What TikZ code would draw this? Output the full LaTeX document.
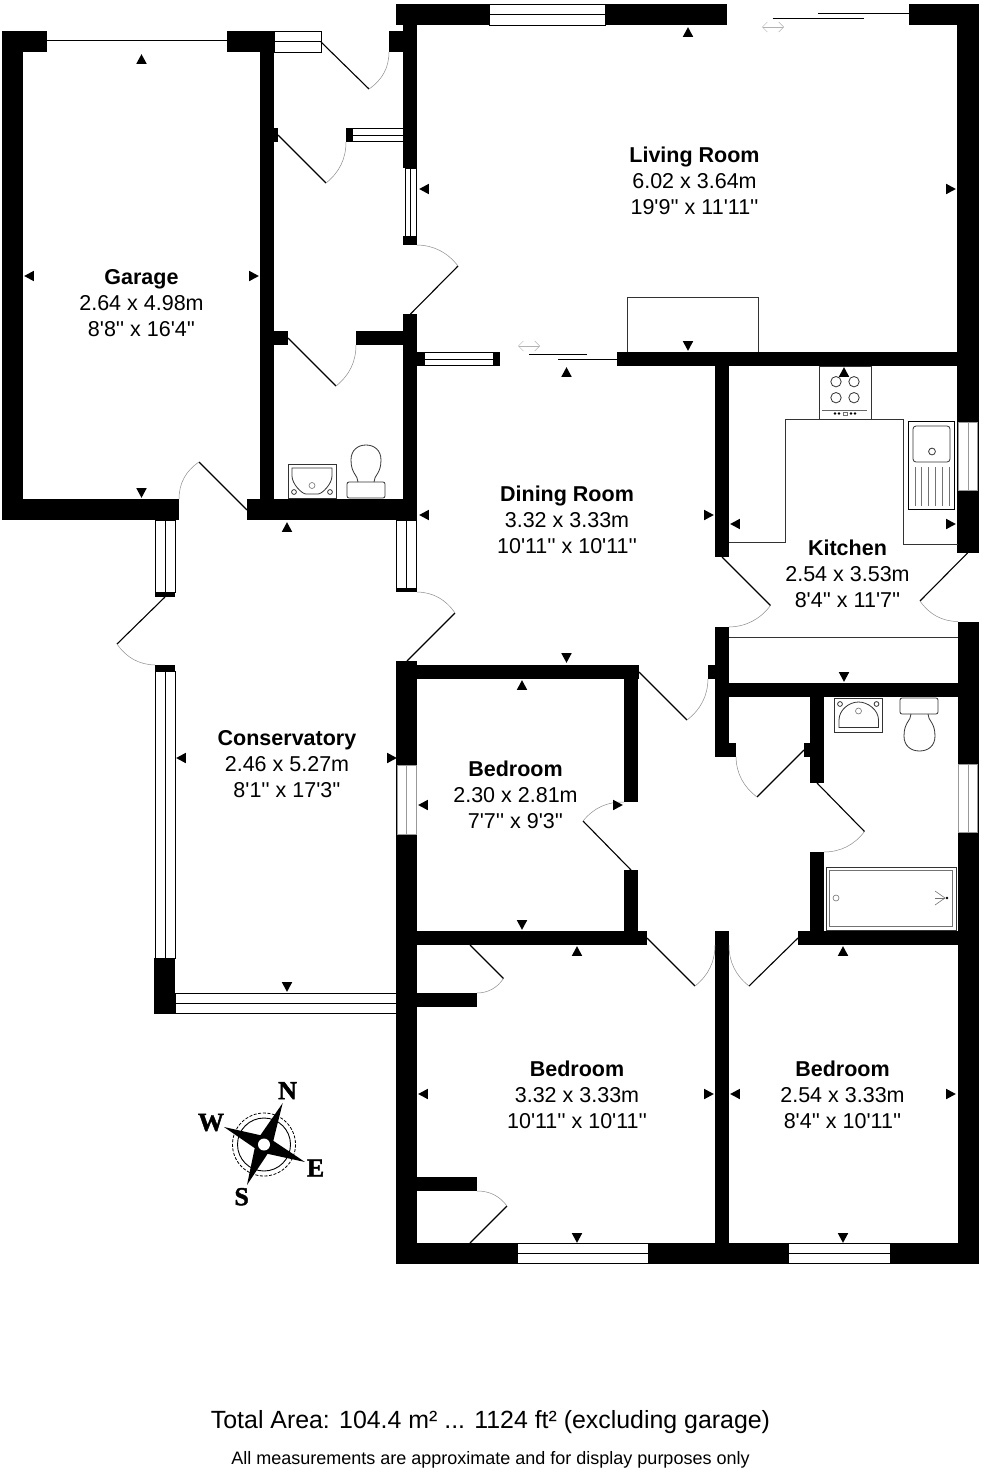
\documentclass[tikz,border=0pt]{standalone}
\usepackage{fontspec}
\setmainfont{Liberation Sans}[Ligatures=TeXOff]
\newfontfamily\compassfont{Liberation Serif}[Ligatures=TeXOff,BoldFeatures={FakeBold=1.6}]
\usetikzlibrary{calc,arrows.meta}
\tikzset{
  wallfill/.style={fill=black},
  winbox/.style={fill=white,draw=black,line width=0.9pt},
  winmid/.style={draw=black,line width=0.9pt},
  winboxl/.style={fill=white,draw=black!40,line width=0.6pt},
  winmidl/.style={draw=black!40,line width=0.6pt},
  leaf/.style={draw=black,line width=1.1pt},
  swing/.style={draw=black!45,line width=0.5pt},
  fix/.style={draw=black!80,line width=0.8pt},
  fixthin/.style={draw=black!55,line width=0.6pt},
  roomlabel/.style={align=center,font=\fontsize{21.5}{25.8}\selectfont,inner sep=0pt},
  slider/.style={draw=black,line width=1pt},
  slidehint/.style={draw=black!30,line width=0.5pt,{Straight Barb[length=5pt,width=10pt]}-{Straight Barb[length=5pt,width=10pt]}},
  compassletter/.style={font=\compassfont\bfseries\fontsize{26}{26}\selectfont,inner sep=0pt}
}
\newcommand\wallrect[4]{\fill[wallfill] (#1,#2) rectangle (#3,#4);}
\newcommand\winH[4]{\draw[winbox] (#1,#2) rectangle (#3,#4); \draw[winmid] (#1,{(#2+#4)/2}) -- (#3,{(#2+#4)/2});}
\newcommand\winV[4]{\draw[winbox] (#1,#2) rectangle (#3,#4); \draw[winmid] ({(#1+#3)/2},#2) -- ({(#1+#3)/2},#4);}
\newcommand\winVl[4]{\draw[winboxl] (#1,#2) rectangle (#3,#4); \draw[winmidl] ({(#1+#3)/2},#2) -- ({(#1+#3)/2},#4);}
\newcommand\doorswing[3]{%
  \coordinate (dh) at #1; \coordinate (de) at #2; \coordinate (da) at #3;
  \coordinate (dm) at ($(de)!.5!(da)$);
  \coordinate (dq) at ($(dh)!1.1716!(dm)$);
  \draw[leaf] (dh) -- (de);
  \draw[swing] (de) .. controls ($(de)!.667!(dq)$) and ($(da)!.667!(dq)$) .. (da);}
\newcommand\mU[2]{\fill[shift={(#1,#2)}] (-5.2,4.8) -- (5.2,4.8) -- (0,-4.8) -- cycle;}
\newcommand\mD[2]{\fill[shift={(#1,#2)}] (-5.2,-4.8) -- (5.2,-4.8) -- (0,4.8) -- cycle;}
\newcommand\mL[2]{\fill[shift={(#1,#2)}] (4.8,-5.2) -- (4.8,5.2) -- (-4.8,0) -- cycle;}
\newcommand\mR[2]{\fill[shift={(#1,#2)}] (-4.8,-5.2) -- (-4.8,5.2) -- (4.8,0) -- cycle;}
\begin{document}
\begin{tikzpicture}[x=1pt,y=-1pt]
\useasboundingbox (0,0) rectangle (984,1472);
% ---------- walls
\wallrect{2}{31}{23}{520}
\wallrect{2}{31}{47}{52}
\wallrect{227}{31}{274}{52}
\wallrect{260}{31}{274}{520}
\wallrect{2}{499}{179}{520}
\wallrect{247}{499}{417}{520}
\wallrect{389}{31}{404}{52}
\wallrect{396}{4}{727}{25}
\wallrect{403}{4}{417}{168}
\wallrect{403}{236}{417}{245}
\wallrect{403}{314}{417}{520}
\wallrect{346}{128}{352}{142}
\wallrect{274}{128}{278}{142}
\wallrect{274}{331}{288}{345}
\wallrect{356}{331}{403}{345}
\wallrect{417}{352}{424}{366}
\wallrect{493}{352}{500}{366}
\wallrect{617}{352}{979}{366}
\wallrect{909}{4}{979}{25}
\wallrect{957}{4}{979}{553}
\wallrect{958}{622}{979}{1264}
\wallrect{715}{366}{729}{557}
\wallrect{715}{627}{729}{757}
\wallrect{708}{665}{715}{679}
\wallrect{715}{743}{736}{757}
\wallrect{729}{683}{979}{697}
\wallrect{810}{697}{824}{783}
\wallrect{804}{743}{810}{757}
\wallrect{810}{852}{824}{931}
\wallrect{798}{931}{979}{945}
\wallrect{715}{931}{729}{1264}
\wallrect{396}{661}{417}{1264}
\wallrect{417}{665}{639}{679}
\wallrect{624}{665}{638}{802}
\wallrect{624}{870}{638}{945}
\wallrect{417}{931}{647}{945}
\wallrect{417}{993}{477}{1007}
\wallrect{417}{1177}{477}{1191}
\wallrect{396}{1243}{979}{1264}
\wallrect{154}{958}{175}{1014}
\wallrect{155}{592}{175}{597}
\wallrect{155}{665}{175}{671}
\wallrect{396}{588}{417}{592}
% ---------- windows
\winH{274}{31.5}{321}{52}
\winH{489}{4}{605}{25}
\winV{405}{168}{416}{236}
\winH{352}{128.5}{403}{141.5}
\winH{424}{352.5}{493}{365.5}
\winV{155.5}{520}{175}{592}
\winV{396.5}{520}{416.5}{588}
\winV{155.5}{671}{175}{958}
\winH{175}{993}{396}{1013}
\winVl{397}{765}{416.5}{834}
\winVl{958.5}{422}{977.5}{490.5}
\winVl{958.5}{764}{977.5}{832}
\winH{517}{1243.5}{648}{1263.5}
\winH{788}{1243.5}{890}{1263.5}
% ---------- garage door and sliders
\draw[slider] (47,41) -- (227,41);
\draw[slider] (818,14) -- (909,14);
\draw[slider] (772.6,19) -- (864,19);
\draw[slider] (529.3,354) -- (587,354);
\draw[slider] (558,359.5) -- (617,359.5);
\draw[slidehint] (762,27) -- (784,27);
\draw[slidehint] (518,346) -- (540,346);
% ---------- doors
\doorswing{(321,42)}{(369,89)}{(389,52)}
\doorswing{(278,135)}{(326,183)}{(346,142)}
\doorswing{(410.5,314)}{(458,266)}{(417,245)}
\doorswing{(288,338)}{(336,386)}{(356,345)}
\doorswing{(247,510)}{(199,462)}{(179,499)}
\doorswing{(165,597)}{(117,644)}{(155,665)}
\doorswing{(407,661)}{(455,613)}{(417,592)}
\doorswing{(722,557)}{(770.5,605.5)}{(729,627)}
\doorswing{(967.5,553)}{(920,601)}{(958,621.5)}
\doorswing{(639,672)}{(687,720)}{(708,679)}
\doorswing{(631,870)}{(583,821)}{(624,802)}
\doorswing{(804,750)}{(757,797)}{(736,757)}
\doorswing{(817,783)}{(864.5,831.5)}{(824,852)}
\doorswing{(647,938)}{(695,986)}{(715,945)}
\doorswing{(798,938)}{(749,986)}{(729,945)}
\doorswing{(470,945)}{(503.5,978.5)}{(477,993)}
\doorswing{(470,1243)}{(507,1206)}{(477,1191)}
% ---------- chimney breast
\draw[fix] (627,352) -- (627,297) -- (758,297) -- (758,352);
% ---------- kitchen units
\draw[fix] (729,542) -- (785,542) -- (785,419) -- (819,419);
\draw[fix] (871,419) -- (903,419) -- (903,544) -- (958,544);
\draw[fix] (729,637) -- (958,637);
\draw[fix] (819,366) rectangle (871,419);
\foreach \px/\py in {836/381.7,854/381.7,836/397.7,854/397.7}{\draw[fix] (\px,\py) circle (5.2);}
\draw[draw=black!60,line width=1pt] (822,410) -- (867,410);
\foreach \px in {835,839,851,855}{\fill (\px,413.5) circle (1.3);}
\draw[fixthin] (843,412) rectangle (847.5,415);
\draw[draw=black,line width=1pt] (908,421) rectangle (954,509);
\draw[fix,rounded corners=3pt] (913,426) rectangle (950,462);
\draw[fix] (932,451.5) circle (3.4);
\foreach \px in {915,921.7,928.3,935.7,942.3,949.3}{\draw[fixthin] (\px,467) -- (\px,506);}
% ---------- WC fittings
\draw[fix] (288,464) rectangle (336.5,498);
\draw[fix] (292,468) -- (332,468) -- (332,476) .. controls (332,484) and (322,494) .. (318,494) -- (306,494) .. controls (302,494) and (292,484) .. (292,476) -- cycle;
\draw[fixthin] (312,485.5) circle (3);
\draw[fix] (294,492) circle (2.4);
\draw[fix] (330,492) circle (2.4);
\draw[fix,rounded corners=2pt] (347,482) rectangle (385,498);
\draw[fix] (358,482) .. controls (358,475) and (351,474) .. (351,460) .. controls (351,450) and (358,445) .. (366,445) .. controls (374,445) and (381,450) .. (381,460) .. controls (381,474) and (374,475) .. (374,482);
% ---------- bathroom fittings
\draw[fix] (834,698) rectangle (882,732);
\draw[fix] (839,727.5) -- (878.5,727.5) -- (878.5,720) .. controls (878.5,710) and (868,702) .. (858.5,702) .. controls (849,702) and (839,710) .. (839,720) -- cycle;
\draw[fixthin] (858.5,711) circle (3);
\draw[fix] (840,704) circle (2.4);
\draw[fix] (876.5,704) circle (2.4);
\draw[fix,rounded corners=2pt] (900,698) rectangle (938,714);
\draw[fix] (911,714) .. controls (911,721) and (904,722) .. (904,736) .. controls (904,746) and (911,751) .. (919.5,751) .. controls (928,751) and (935,746) .. (935,736) .. controls (935,722) and (928,721) .. (928,714);
\draw[fix] (826,867) rectangle (956,930);
\draw[fixthin] (829.5,870.5) rectangle (952.5,926.5);
\draw[fixthin] (836,898) circle (3);
\draw[fixthin] (935,891) -- (945,898) -- (935,905);
\draw[fixthin] (935,898) -- (945,898);
\fill (947,898) circle (1.4);
% ---------- dimension markers
\mU{141.5}{59}\mL{29}{276}\mR{254}{276}\mD{141.5}{493}
\mU{688}{32}\mL{424}{189}\mR{951}{189}\mD{688}{346}
\mU{566.5}{372}\mL{424}{515}\mR{709}{515}\mD{566.5}{658}
\mU{844}{372}\mL{735}{524}\mR{951}{524}\mD{844}{677}
\mU{287}{527}\mL{181}{758}\mR{392}{758}\mD{287}{987}
\mU{522}{685}\mL{423}{805}\mR{618}{805}\mD{522}{925}
\mU{577}{951}\mL{423}{1094}\mR{709}{1094}\mD{577}{1238}
\mU{843}{951}\mL{735}{1094}\mR{951}{1094}\mD{843}{1238}
% ---------- room labels
\node[roomlabel] (living) at (694.5,181) {\textbf{Living Room}\\6.02 x 3.64m\\19'9'' x 11'11''};
\node[roomlabel] (garage) at (141.5,303) {\textbf{Garage}\\2.64 x 4.98m\\8'8'' x 16'4''};
\node[roomlabel] (dining) at (567,520) {\textbf{Dining Room}\\3.32 x 3.33m\\10'11'' x 10'11''};
\node[roomlabel] (kitchen) at (847.5,574) {\textbf{Kitchen}\\2.54 x 3.53m\\8'4'' x 11'7''};
\node[roomlabel] (conservatory) at (287,764) {\textbf{Conservatory}\\2.46 x 5.27m\\8'1'' x 17'3''};
\node[roomlabel] (bedone) at (515.5,795) {\textbf{Bedroom}\\2.30 x 2.81m\\7'7'' x 9'3''};
\node[roomlabel] (bedtwo) at (577,1095) {\textbf{Bedroom}\\3.32 x 3.33m\\10'11'' x 10'11''};
\node[roomlabel] (bedthree) at (842.5,1095) {\textbf{Bedroom}\\2.54 x 3.33m\\8'4'' x 10'11''};
% ---------- compass
\draw[black,line width=0.8pt,dash pattern=on 3pt off 1.6pt] (264,1144.5) circle (31.5);
\draw[black,line width=0.9pt] (264,1144.5) circle (26.5);
\fill (282.7,1103) -- (273.3,1140.8) -- (305,1162) -- (267.6,1153.8) -- (247,1185) -- (254.7,1148.1) -- (224,1127) -- (260.4,1135.2) -- cycle;
\fill[white] (264,1144.5) circle (6);
\node[compassletter] (north) at (287.5,1090.7) {N};
\node[compassletter] (west) at (211,1122.5) {W};
\node[compassletter] (east) at (315.5,1168) {E};
\node[compassletter] (south) at (241.6,1196.7) {S};
% ---------- footer
\node[inner sep=0pt,font=\fontsize{24.9}{24.9}\selectfont] (total) at (490.5,1422) {Total Area: 104.4 m² ... 1124 ft² (excluding garage)};
\node[inner sep=0pt,font=\fontsize{18}{18}\selectfont] (disclaimer) at (490.5,1460) {All measurements are approximate and for display purposes only};
\end{tikzpicture}
\end{document}
